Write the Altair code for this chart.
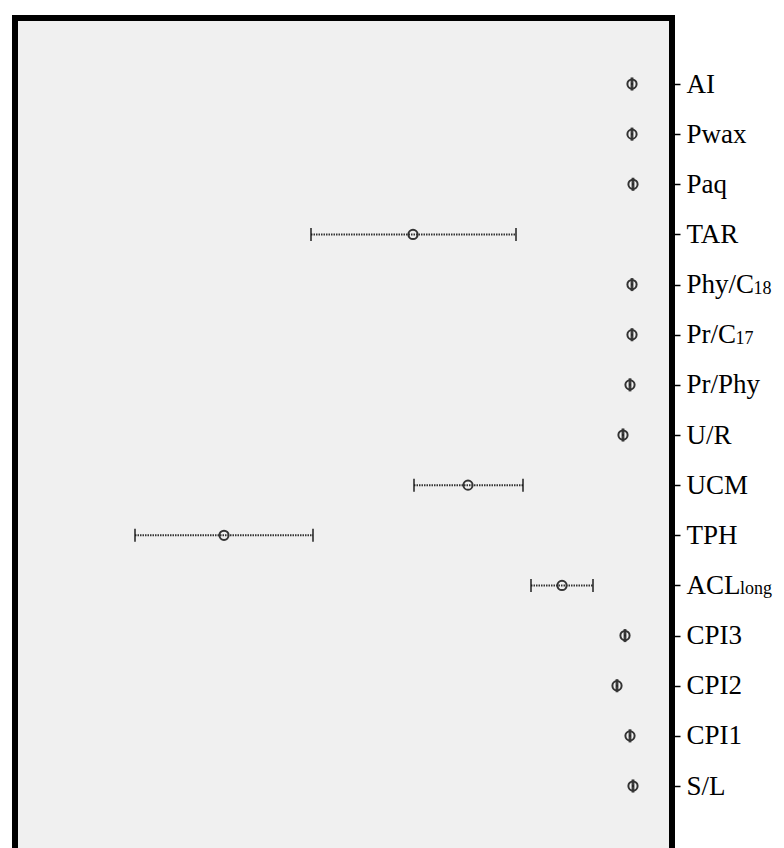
import altair as alt
import pandas as pd

# ---- data (x in arbitrary pixel-like units) ----
categories = ["AI", "Pwax", "Paq", "TAR", "Phy/C18", "Pr/C17", "Pr/Phy", "U/R",
              "UCM", "TPH", "ACLlong", "CPI3", "CPI2", "CPI1", "S/L"]
centers = [617, 617, 618, 398, 617, 617, 615, 608, 453, 209, 547, 610, 602, 615, 618]
lows = [616.5, 616.5, 617.5, 296, 616.5, 616.5, 614.5, 607.5, 399, 120, 516, 609.5, 601.5, 614.5, 617.5]
highs = [617.5, 617.5, 618.5, 501, 617.5, 617.5, 615.5, 608.5, 508, 298, 578, 610.5, 602.5, 615.5, 618.5]

sub_categories = ["Phy/C18", "Pr/C17", "ACLlong"]
sub_texts = ["18", "17", "long"]

df = pd.DataFrame({"cat": categories, "c": centers, "lo": lows, "hi": highs})
sub_df = pd.DataFrame({"cat": sub_categories, "sub": sub_texts})

W, H = 657, 830
LABEL_FONT = "Liberation Serif"
LABEL_SIZE = 27
TICK = 8
LPAD = 6
# approximate rendered width of main label part (style/layout only)
main_width = {"Phy/C18": 67.5, "Pr/C17": 49.5, "ACLlong": 54}

XS = alt.Scale(domain=[0, W], nice=False, zero=False)
Y = alt.Y(
    "cat:N",
    sort=categories,
    scale=alt.Scale(type="point", range=[66, 768], padding=0),
    axis=alt.Axis(
        orient="right",
        title=None,
        domain=False,
        grid=False,
        ticks=True,
        tickSize=TICK,
        tickWidth=1.5,
        tickColor="black",
        labelPadding=LPAD,
        labelFont=LABEL_FONT,
        labelFontSize=LABEL_SIZE,
        labelColor="black",
        labelOverlap=False,
        labelBound=False,
        labelExpr="replace(replace(replace(datum.label,'C18','C'),'C17','C'),'long','')",
    ),
)

base = alt.Chart(df)

err = base.mark_rule(color="#333", strokeWidth=2, strokeDash=[1.5, 1]).encode(
    x=alt.X("lo:Q", scale=XS, axis=None),
    x2="hi:Q",
    y=Y,
)
cap_lo = base.mark_tick(color="#111", thickness=2, size=13).encode(
    x=alt.X("lo:Q", scale=XS, axis=None), y=Y
)
cap_hi = base.mark_tick(color="#111", thickness=2, size=13).encode(
    x=alt.X("hi:Q", scale=XS, axis=None), y=Y
)
pts = base.mark_point(shape="circle", filled=False, size=85, strokeWidth=2,
                      color="#333", opacity=1).encode(
    x=alt.X("c:Q", scale=XS, axis=None), y=Y)

one = pd.DataFrame({"k": [0]})
left_b = alt.Chart(one).mark_rule(color="black", strokeWidth=6).encode(
    x=alt.value(0), y=alt.value(-3), y2=alt.value(H + 10))
top_b = alt.Chart(one).mark_rule(color="black", strokeWidth=6).encode(
    y=alt.value(0), x=alt.value(-3), x2=alt.value(W + 3))
right_b = alt.Chart(one).mark_rule(color="black", strokeWidth=6).encode(
    x=alt.value(W), y=alt.value(-3), y2=alt.value(H + 10))

subs = []
for cat in sub_categories:
    subs.append(
        alt.Chart(sub_df).transform_filter(alt.datum.cat == cat).mark_text(
            font=LABEL_FONT, fontSize=18, align="left", baseline="alphabetic",
            dy=9, color="black"
        ).encode(
            x=alt.value(W + TICK + LPAD + main_width[cat]),
            y=Y,
            text="sub:N",
        )
    )

chart = alt.layer(err, cap_lo, cap_hi, pts, left_b, top_b, right_b, *subs).properties(
    width=W,
    height=H,
    autosize=alt.AutoSizeParams(type="none"),
    padding={"left": 15, "top": 18, "right": 112, "bottom": 0},
    background="white",
).configure_view(fill="#f0f0f0", stroke=None)

chart.save("out.html", embed_options={"renderer": "svg", "actions": False})
